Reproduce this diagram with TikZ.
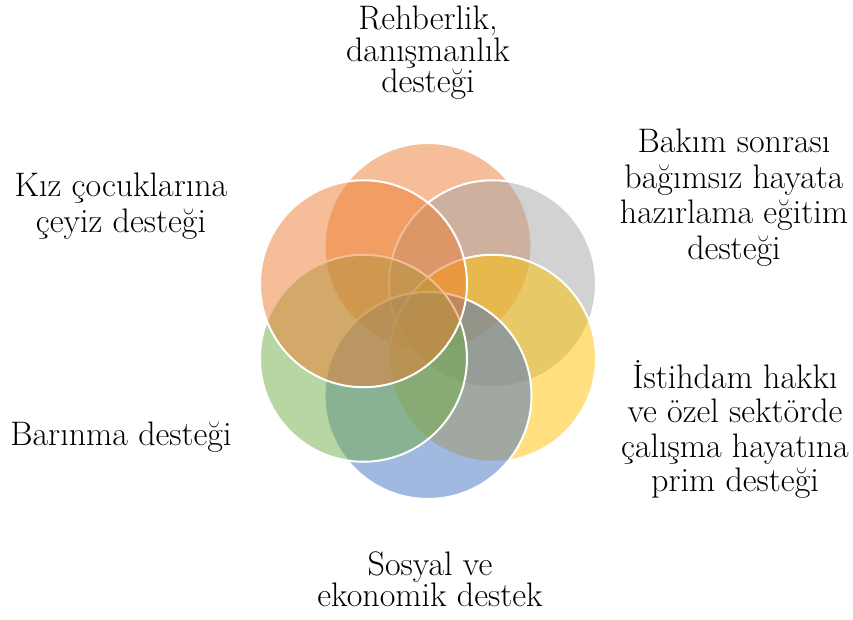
\documentclass[tikz,border=0pt]{standalone}
\usepackage{tikz}
\usetikzlibrary{calc}

\definecolor{accOrange}{HTML}{ED7D31}
\definecolor{accGray}{HTML}{A5A5A5}
\definecolor{accGold}{HTML}{FFC000}
\definecolor{accBlue}{HTML}{4472C4}
\definecolor{accGreen}{HTML}{70AD47}

\tikzset{
  petal/.style={draw=white, line width=2pt, fill=#1, fill opacity=0.5},
  lbl/.style={align=center, inner sep=0pt, font=\fontsize{34}{35.5}\selectfont},
  lbltight/.style={lbl, font=\fontsize{34}{31.5}\selectfont}
}

\begin{document}
\begin{tikzpicture}[x=1pt, y=-1pt]
  \useasboundingbox (0,0) rectangle (853,619);
  % Flower centre
  \coordinate (ctr) at (428,321);
  % Petals, clockwise from the top, the last one on top
  \foreach \ang/\col in {-90/accOrange, -30/accGray, 30/accGold, 90/accBlue, 150/accGreen, 210/accOrange}
    {\draw[petal=\col] ($(ctr)+(\ang:74.5)$) circle[radius=103.5];}
  % Labels
  \node[lbltight] (rehber) at (428,53) {Rehberlik,\\ danışmanlık\\ desteği};
  \node[lbl] (bakim) at (734,197.5) {Bakım sonrası\\ bağımsız hayata\\ hazırlama eğitim\\ desteği};
  \node[lbl, font=\fontsize{34}{34.3}\selectfont] (istihdam) at (735,429.5) {İstihdam hakkı\\ ve özel sektörde\\ çalışma hayatına\\ prim desteği};
  \node[lbltight] (sosyal) at (430,579) {Sosyal ve\\ ekonomik destek};
  \node[lbl, anchor=base] (barinma) at (121,445) {Barınma desteği};
  \node[lbl] (ceyiz) at (121,206) {Kız çocuklarına\\ çeyiz desteği};
\end{tikzpicture}
\end{document}
